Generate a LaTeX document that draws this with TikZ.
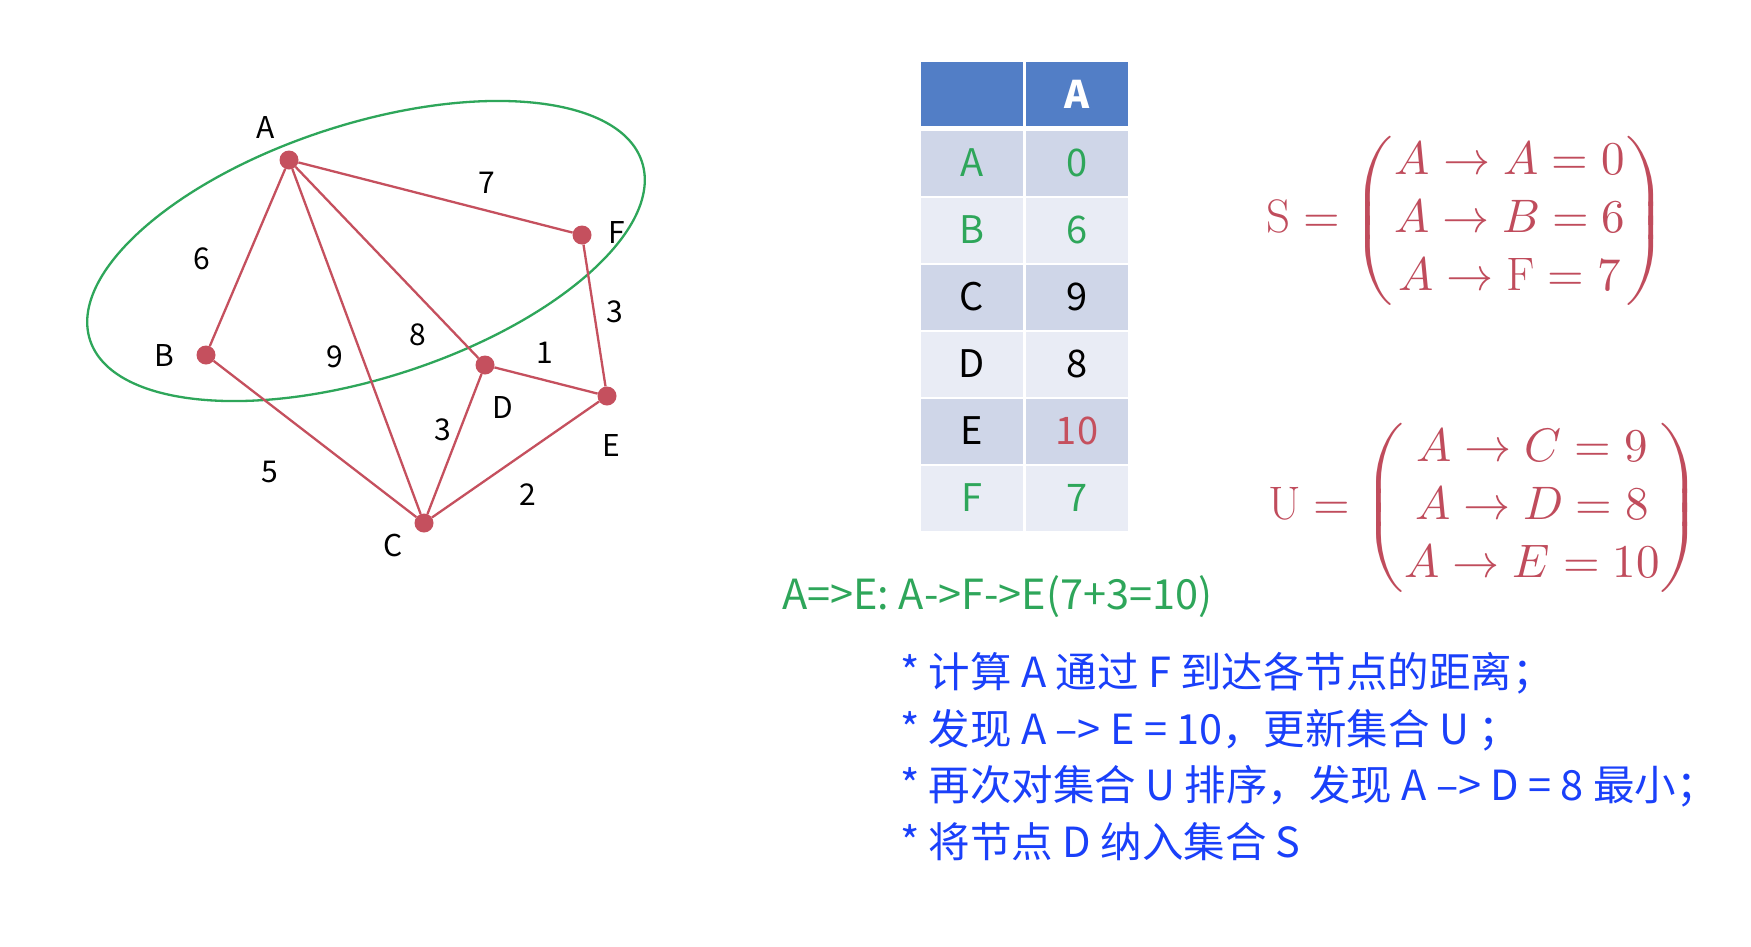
\documentclass[tikz,border=0pt]{standalone}
\usepackage{amsmath}
\usepackage{fontspec}
\usepackage{unicode-math}
\setmathfont{Latin Modern Math}
\newfontfamily\cjk{Noto Sans CJK SC}
\definecolor{edgered}{RGB}{197,80,94}
\definecolor{setgreen}{RGB}{46,166,90}
\definecolor{txtblue}{RGB}{26,64,250}
\definecolor{hdrblue}{RGB}{82,126,198}
\definecolor{rowdark}{RGB}{207,214,232}
\definecolor{rowlight}{RGB}{233,236,245}
\definecolor{mathred}{RGB}{192,76,92}
\tikzset{
  vtx/.style={circle,fill=edgered,minimum size=19,inner sep=0},
  edge/.style={draw=edgered,line width=2.3},
  lbl/.style={font=\cjk\fontsize{30}{36}\selectfont,inner sep=0},
  cell/.style={minimum width=102,minimum height=65,inner sep=0,font=\cjk\fontsize{38}{44}\selectfont},
  hdr/.style={cell,fill=hdrblue,minimum height=64},
  note/.style={anchor=west,inner sep=0,text=txtblue,font=\cjk\fontsize{41.5}{48}\selectfont},
  setmath/.style={anchor=west,inner sep=0,text=mathred,font=\fontsize{47}{58}\selectfont},
}
\begin{document}
\begin{tikzpicture}[x=1pt,y=-1pt]
\useasboundingbox[fill=white] (0,0) rectangle (1751,946);
% ellipse (set S)
\draw[setgreen,line width=2.3,shift={(366,251)},rotate=17.85] (0,0) ellipse [x radius=290,y radius=127];
% vertices
\node[vtx] (A) at (289,160) {};
\node[vtx] (B) at (206,355) {};
\node[vtx] (C) at (424,523) {};
\node[vtx] (D) at (485,365) {};
\node[vtx] (E) at (607,396) {};
\node[vtx] (F) at (582,235) {};
% edges
\draw[edge] (A) -- (B);
\draw[edge] (A) -- (C);
\draw[edge] (A) -- (D);
\draw[edge] (A) -- (F);
\draw[edge] (B) -- (C);
\draw[edge] (C) -- (D);
\draw[edge] (C) -- (E);
\draw[edge] (D) -- (E);
\draw[edge] (F) -- (E);
% vertex labels
\node[lbl] (lA) at (266,127) {A};
\node[lbl] (lB) at (164,355) {B};
\node[lbl] (lC) at (393,545) {C};
\node[lbl] (lD) at (503,407) {D};
\node[lbl] (lE) at (611,445) {E};
\node[lbl] (lF) at (617,232) {F};
% weights
\node[lbl] (wAB) at (202,259) {6};
\node[lbl] (wAF) at (487,183) {7};
\node[lbl] (wAC) at (335,357) {9};
\node[lbl] (wAD) at (418,335) {8};
\node[lbl] (wFE) at (615,312) {3};
\node[lbl] (wDE) at (545,353) {1};
\node[lbl] (wCD) at (443,430) {3};
\node[lbl] (wBC) at (270,472) {5};
\node[lbl] (wCE) at (528,495) {2};
% table
\node[hdr] (h0) at (972,94) {};
\node[hdr,text=white,font=\cjk\bfseries\fontsize{38}{44}\selectfont] (h1) at (1077,94) {A};
\node[cell,fill=rowdark,text=setgreen] (rA0) at (972,163) {A};
\node[cell,fill=rowdark,text=setgreen] (rA1) at (1077,163) {0};
\node[cell,fill=rowlight,text=setgreen] (rB0) at (972,230) {B};
\node[cell,fill=rowlight,text=setgreen] (rB1) at (1077,230) {6};
\node[cell,fill=rowdark] (rC0) at (972,297) {C};
\node[cell,fill=rowdark] (rC1) at (1077,297) {9};
\node[cell,fill=rowlight] (rD0) at (972,364) {D};
\node[cell,fill=rowlight] (rD1) at (1077,364) {8};
\node[cell,fill=rowdark] (rE0) at (972,431) {E};
\node[cell,fill=rowdark,text=edgered] (rE1) at (1077,431) {10};
\node[cell,fill=rowlight,text=setgreen] (rF0) at (972,498) {F};
\node[cell,fill=rowlight,text=setgreen] (rF1) at (1077,498) {7};
% sets
\node[setmath] (S) at (1266,221)
  {$\mathrm{S}=\begin{pmatrix}A\to A=0\\ A\to B=6\\ A\to \mathrm{F}=7\end{pmatrix}$};
\node[setmath] (U) at (1268,508)
  {$\mathrm{U}=\begin{pmatrix}A\to C=9\\ A\to D=8\\ A\to E=10\end{pmatrix}$};
% path text
\node[anchor=west,inner sep=0,text=setgreen,font=\cjk\fontsize{41.5}{48}\selectfont] (path) at (782,597) {A=>E: A->F->E(7+3=10)};
% notes
\node[note] (n1) at (900,673) {* 计算 A 通过 F 到达各节点的距离；};
\node[note] (n2) at (900,730) {* 发现 A –> E = 10，更新集合 U ；};
\node[note] (n3) at (900,786) {* 再次对集合 U 排序，发现 A –> D = 8 最小；};
\node[note] (n4) at (900,842) {* 将节点 D 纳入集合 S};
\end{tikzpicture}
\end{document}
